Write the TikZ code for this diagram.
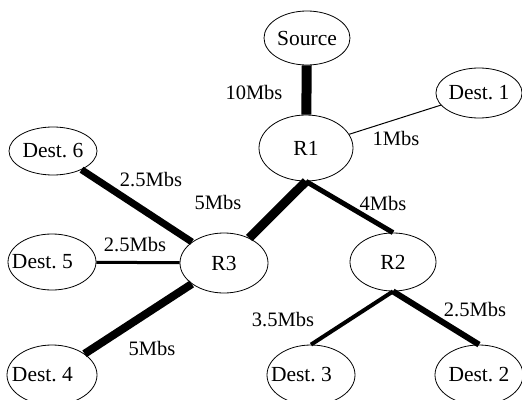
\documentclass[tikz,border=0pt]{standalone}
\usepackage{fontspec}
\setmainfont{Liberation Serif}
\usetikzlibrary{shapes.geometric}
\newcommand{\lefted}[1]{\hbox to 60pt{\hskip-10pt #1\hss}}
\begin{document}
\frenchspacing
\begin{tikzpicture}[x=1pt,y=-1pt,
  nd/.style={draw, ellipse, line width=0.8pt, inner sep=0pt, font=\fontsize{21.5}{23}\selectfont},
  lbl/.style={inner sep=0pt, font=\fontsize{20.5}{22}\selectfont},
  link/.style={line width=#1pt}]
\useasboundingbox (0,0) rectangle (522,399);
\node[nd, minimum width=86pt, minimum height=54pt] (src) at (307,38) {Source};
\node[nd, minimum width=82pt, minimum height=50pt] (d1) at (479,93) {Dest. 1};
\node[nd, minimum width=94pt, minimum height=66pt] (r1) at (306,148) {R1};
\node[nd, minimum width=88pt, minimum height=48pt] (d6) at (53,151) {Dest. 6};
\node[nd, minimum width=88pt, minimum height=56pt] (d5) at (52,262) {\lefted{Dest. 5}};
\node[nd, minimum width=88pt, minimum height=60pt] (r3) at (224,263) {R3};
\node[nd, minimum width=86pt, minimum height=58pt] (r2) at (393,262) {R2};
\node[nd, minimum width=90pt, minimum height=60pt] (d4) at (52,375) {\lefted{Dest. 4}};
\node[nd, minimum width=88pt, minimum height=60pt] (d3) at (311,375) {\lefted{Dest. 3}};
\node[nd, minimum width=88pt, minimum height=60pt] (d2) at (479,375) {Dest. 2};

\draw[link=10] (src) -- (r1);
\draw[link=1] (r1) -- (d1);
\draw[link=9] (r1.south) -- (r3);
\draw[link=5] (r1.south) -- (r2.north);
\draw[link=7] (d6) -- (r3);
\draw[link=3] (d5) -- (r3);
\draw[link=8] (r3) -- (d4);
\draw[link=4] (r2.south) -- (d3.north);
\draw[link=6] (r2.south) -- (d2.north);

\node[lbl] (l10) at (254,92) {10Mbs};
\node[lbl] (l1) at (396,138) {1Mbs};
\node[lbl] (l6) at (151,180) {2.5Mbs};
\node[lbl] (l13) at (218,202) {5Mbs};
\node[lbl] (l12) at (383,203) {4Mbs};
\node[lbl] (l5) at (135,245) {2.5Mbs};
\node[lbl] (l3) at (283,320) {3.5Mbs};
\node[lbl] (l2) at (475,310) {2.5Mbs};
\node[lbl] (l4) at (152,348) {5Mbs};
\end{tikzpicture}
\end{document}
